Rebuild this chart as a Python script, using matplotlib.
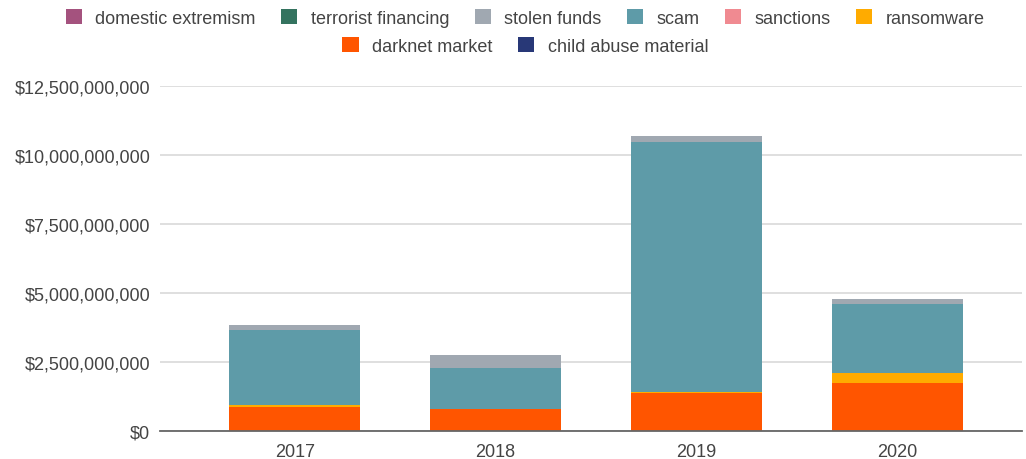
import numpy as np
from matplotlib import pyplot as plt
from matplotlib.ticker import FuncFormatter, MultipleLocator

plt.rcParams['font.family'] = ['Liberation Sans', 'DejaVu Sans']

# dados (em bilhoes de dolares)
anos = ["2017", "2018", "2019", "2020"]
child_abuse = [0.0, 0.0, 0.0, 0.0]
darknet = [0.86, 0.81, 1.37, 1.75]
ransomware = [0.07, 0.0, 0.05, 0.34]
sanctions = [0.0, 0.0, 0.0, 0.0]
scam = [2.74, 1.47, 9.06, 2.52]
stolen = [0.18, 0.46, 0.22, 0.17]
terrorist = [0.0, 0.0, 0.0, 0.0]
domestic = [0.0, 0.0, 0.0, 0.0]

series = [
    ("child abuse material", child_abuse, "#283877"),
    ("darknet market", darknet, "#FF5500"),
    ("ransomware", ransomware, "#FFAB00"),
    ("sanctions", sanctions, "#F08A91"),
    ("scam", scam, "#5E9BA8"),
    ("stolen funds", stolen, "#A0A8B1"),
    ("terrorist financing", terrorist, "#34735F"),
    ("domestic extremism", domestic, "#A4527E"),
]

fig = plt.figure(figsize=(10.26, 4.6), dpi=100)
ax = fig.add_axes([0.156, 0.061, 0.84, 0.75])

x = np.arange(len(anos))
base = np.zeros(len(anos))
handles = {}
for nome, vals, cor in series:
    v = np.array(vals) * 1e9
    h = ax.bar(x, v, 0.65, bottom=base, color=cor, label=nome, zorder=3)
    handles[nome] = h
    base += v

ax.set_ylim(0, 12.5e9)
ax.set_xlim(-0.67, 3.62)
ax.yaxis.set_major_locator(MultipleLocator(2.5e9))
ax.yaxis.set_major_formatter(FuncFormatter(lambda v, p: "${:,.0f}".format(v)))
ax.set_xticks(x)
ax.set_xticklabels(anos)
ax.grid(axis="y", color="#D9D9D9", linewidth=1.2, zorder=0)
for s in ["top", "right", "left"]:
    ax.spines[s].set_visible(False)
ax.spines["bottom"].set_color("#666666")
ax.spines["bottom"].set_linewidth(1.3)
ax.spines["bottom"].set_zorder(4)
ax.tick_params(length=0, labelsize=13, labelcolor="#444444")
ax.tick_params(axis="y", pad=7)
ax.tick_params(axis="x", pad=9)

linha1 = ["domestic extremism", "terrorist financing", "stolen funds", "scam", "sanctions", "ransomware"]
linha2 = ["darknet market", "child abuse material"]
kw = dict(frameon=False, fontsize=13, handlelength=0.9, handleheight=0.9,
          handletextpad=0.75, columnspacing=1.4, labelcolor="#444444")
fig.legend([handles[n] for n in linha1], linha1, ncol=6, loc="center",
           bbox_to_anchor=(0.512, 0.958), **kw)
fig.legend([handles[n] for n in linha2], linha2, ncol=2, loc="center",
           bbox_to_anchor=(0.512, 0.898), **kw)

fig.savefig("out.png", dpi=100)
